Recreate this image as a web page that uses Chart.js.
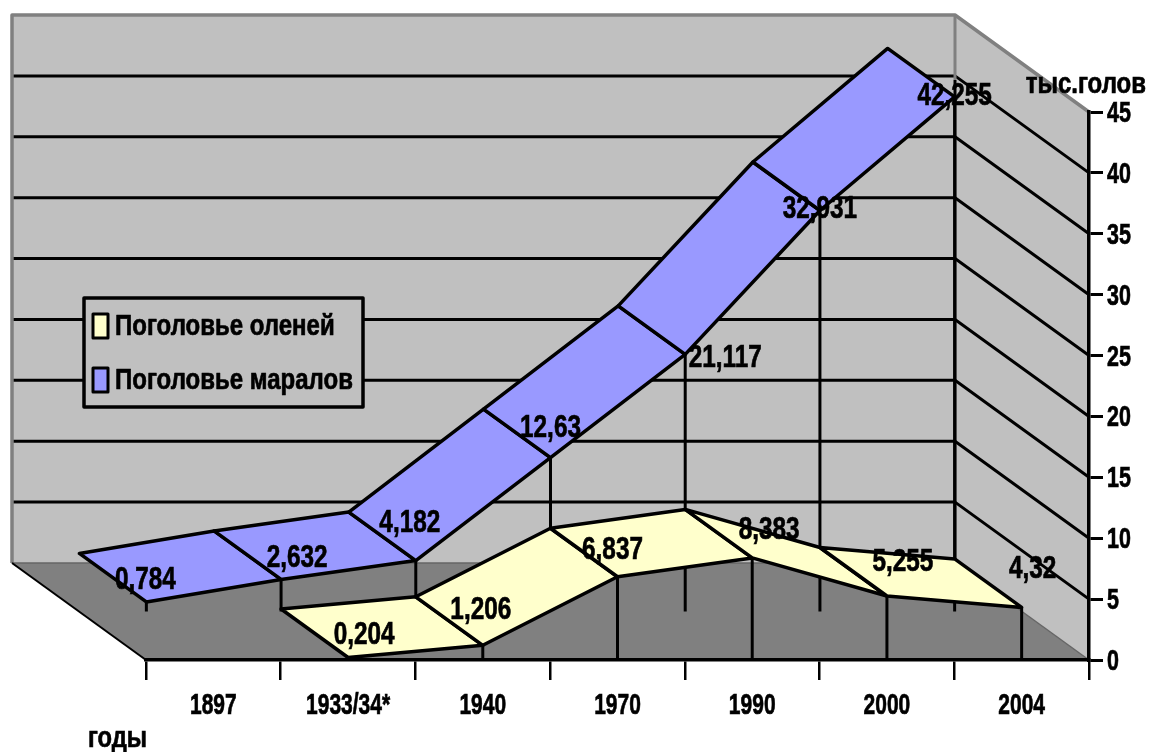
<!DOCTYPE html>
<html>
<head>
<meta charset="utf-8">
<title>Поголовье</title>
<script src="https://cdn.jsdelivr.net/npm/chart.js@4"></script>
<style>
    body { margin: 0; background: #fff; }
    canvas { display: block; }
</style>
</head>
<body>
<canvas id="herdChart" width="1150" height="752"></canvas>
<script>
// Data
const years = ['1897', '1933/34*', '1940', '1970', '1990', '2000', '2004'];
const deer = [null, 0.204, 1.206, 6.837, 8.383, 5.255, 4.32];
const marals = [0.784, 2.632, 4.182, 12.63, 21.117, 32.931, 42.255];
const yTicks = [0, 5, 10, 15, 20, 25, 30, 35, 40, 45];

// Depth of the floor in pixels, back wall is shifted by this much
const DEPTH_X = 134;
const DEPTH_Y = 97;

// Where the value labels sit relative to the front edge of the ribbon
const deerLabelOffset = [null, [16, -22], [-2, -35], [-5, -27], [17, -28], [16, -34], [11, -38]];
const maralLabelOffset = [[-1, -22], [16, -21], [-6, -37], [0, -30], [40, 4], [0, -1], [0, -1]];

function point(chart, i, value, depth) {
    return {
        x: chart.scales.x.getPixelForValue(i) - depth * DEPTH_X,
        y: chart.scales.y.getPixelForValue(value) - depth * DEPTH_Y
    };
}

function poly(ctx, pts, fill, stroke, width) {
    ctx.beginPath();
    pts.forEach(function (p, i) {
        if (i == 0) ctx.moveTo(p[0], p[1]);
        else ctx.lineTo(p[0], p[1]);
    });
    if (fill) {
        ctx.closePath();
        ctx.fillStyle = fill;
        ctx.fill();
    }
    if (stroke) {
        ctx.strokeStyle = stroke;
        ctx.lineWidth = width;
        ctx.stroke();
    }
}

// The original uses a tall narrow bold font, so the text is squeezed sideways
function squeezedText(ctx, text, x, y, size, squeeze, align) {
    ctx.save();
    ctx.translate(x, y);
    ctx.scale(squeeze, 1);
    ctx.font = 'bold ' + size + 'px "Liberation Sans"';
    ctx.fillStyle = '#000';
    ctx.strokeStyle = '#000';
    ctx.lineWidth = 0.7;
    ctx.textAlign = align;
    ctx.textBaseline = 'middle';
    ctx.strokeText(text, 0, 0);
    ctx.fillText(text, 0, 0);
    ctx.restore();
}

// Walls, floor and the grid on them
const wallsPlugin = {
    id: 'walls',
    beforeDraw: function (chart) {
        const ctx = chart.ctx;
        const a = chart.chartArea;
        const backTop = a.top - DEPTH_Y;
        const backBottom = a.bottom - DEPTH_Y;
        const backLeft = a.left - DEPTH_X;
        const backRight = a.right - DEPTH_X;
        ctx.save();
        ctx.lineJoin = 'round';
        poly(ctx, [[backLeft, backTop], [backRight, backTop], [a.right, a.top], [a.right, a.bottom], [backRight, backBottom], [backLeft, backBottom]], '#c0c0c0');
        poly(ctx, [[backLeft, backBottom], [backRight, backBottom], [a.right, a.bottom], [a.left, a.bottom]], '#808080');
        yTicks.forEach(function (t) {
            const y = chart.scales.y.getPixelForValue(t);
            if (t > 0 && t < 45) {
                poly(ctx, [[backLeft, y - DEPTH_Y], [backRight, y - DEPTH_Y], [a.right, y]], null, '#000', 3);
            }
        });
        poly(ctx, [[backLeft, backBottom], [backLeft, backTop], [backRight, backTop], [a.right, a.top]], null, '#808080', 3.5);
        poly(ctx, [[backRight, backTop], [backRight, backTop + 65]], null, '#808080', 3);
        poly(ctx, [[backRight, backTop + 65], [backRight, backBottom]], null, '#000', 3);
        poly(ctx, [[backLeft, backBottom], [backRight, backBottom]], null, '#666', 1.5);
        poly(ctx, [[backLeft, backBottom], [a.left, a.bottom]], null, '#000', 2);
        poly(ctx, [[backRight, backBottom], [a.right, a.bottom]], null, '#666', 1.5);
        ctx.restore();
    }
};

function drawRibbon(chart, values, color, depthFront, depthBack) {
    const ctx = chart.ctx;
    for (let i = 0; i < values.length - 1; i++) {
        if (values[i] == null || values[i + 1] == null) continue;
        const f1 = point(chart, i, values[i], depthFront);
        const f2 = point(chart, i + 1, values[i + 1], depthFront);
        const b1 = point(chart, i, values[i], depthBack);
        const b2 = point(chart, i + 1, values[i + 1], depthBack);
        poly(ctx, [[f1.x, f1.y], [f2.x, f2.y], [b2.x, b2.y], [b1.x, b1.y]], color, '#000', 3.5);
    }
}

function dropLines(chart, values, depth) {
    values.forEach(function (v, i) {
        if (v == null) return;
        const top = point(chart, i, v, depth);
        const floor = point(chart, i, 0, depth);
        poly(chart.ctx, [[top.x, top.y], [floor.x, floor.y]], null, '#000', 3);
    });
}

function valueLabels(chart, values, offsets, depth) {
    values.forEach(function (v, i) {
        if (v == null) return;
        const p = point(chart, i, v, depth);
        squeezedText(chart.ctx, String(v).replace('.', ','), p.x + offsets[i][0], p.y + offsets[i][1], 32, 0.76, 'center');
    });
}

function drawLegend(chart) {
    const ctx = chart.ctx;
    poly(ctx, [[84, 298], [363, 298], [363, 407], [84, 407]], '#c0c0c0', '#000', 3.5);
    chart.data.datasets.forEach(function (ds, i) {
        const y = 326 + i * 54;
        poly(ctx, [[93, y - 12], [108, y - 12], [108, y + 12], [93, y + 12]], ds.backgroundColor, '#000', 3);
        squeezedText(ctx, ds.label, 115, y + 1, 30, 0.8, 'left');
    });
}

// The line chart is shown as 3D ribbons, so the marks are drawn here from the scales
const ribbonsPlugin = {
    id: 'ribbons',
    beforeDatasetsDraw: function (chart) {
        const ctx = chart.ctx;
        ctx.save();
        ctx.lineJoin = 'round';
        dropLines(chart, marals, 0.5);
        drawRibbon(chart, marals, '#9999ff', 0.5, 1);
        drawRibbon(chart, deer, '#ffffcc', 0, 0.5);
        dropLines(chart, deer, 0);
        drawLegend(chart);
        ctx.restore();
    },
    afterDatasetsDraw: function (chart) {
        const ctx = chart.ctx;
        const a = chart.chartArea;
        valueLabels(chart, marals, maralLabelOffset, 0.5);
        valueLabels(chart, deer, deerLabelOffset, 0);
        // Axis labels, placed from the scale ticks
        chart.scales.x.ticks.forEach(function (t, i) {
            squeezedText(ctx, t.label, chart.scales.x.getPixelForTick(i), a.bottom + 46, 30, 0.7, 'center');
        });
        chart.scales.y.ticks.forEach(function (t, i) {
            squeezedText(ctx, String(t.value), a.right + 18, chart.scales.y.getPixelForTick(i) + 2, 29, 0.74, 'left');
        });
        squeezedText(ctx, 'тыс.голов', 1146, 85, 30, 0.8, 'right');
        squeezedText(ctx, 'годы', 147, 739, 30, 0.79, 'right');
    }
};

const ctx = document.getElementById('herdChart').getContext('2d');

new Chart(ctx, {
    type: 'line',
    data: {
        labels: years,
        datasets: [
            {
                label: 'Поголовье оленей',
                data: deer,
                backgroundColor: '#ffffcc',
                borderColor: '#000',
                showLine: false,
                pointRadius: 0
            }, {
                label: 'Поголовье маралов',
                data: marals,
                backgroundColor: '#9999ff',
                borderColor: '#000',
                showLine: false,
                pointRadius: 0
            }]
    },
    plugins: [wallsPlugin, ribbonsPlugin],
    options: {
        responsive: false,
        animation: false,
        layout: {
            padding: { left: 146, top: 112, right: 0, bottom: 0 }
        },
        plugins: {
            legend: { display: false },
            tooltip: { enabled: false }
        },
        scales: {
            x: {
                offset: true,
                afterFit: function (scale) { scale.height = 92; },
                border: { color: '#000', width: 3.5 },
                grid: { offset: true, drawOnChartArea: false, color: '#000', lineWidth: 2.5, tickLength: 20 },
                ticks: { display: false }
            },
            y: {
                position: 'right',
                min: 0,
                max: 45,
                afterFit: function (scale) { scale.width = 61; },
                afterBuildTicks: function (scale) {
                    scale.ticks = yTicks.map(function (t) { return { value: t }; });
                },
                border: { color: '#000', width: 3.5 },
                grid: { drawOnChartArea: false, color: '#000', lineWidth: 3, tickLength: 14 },
                ticks: { display: false }
            }
        }
    }
});
</script>
</body>
</html>
